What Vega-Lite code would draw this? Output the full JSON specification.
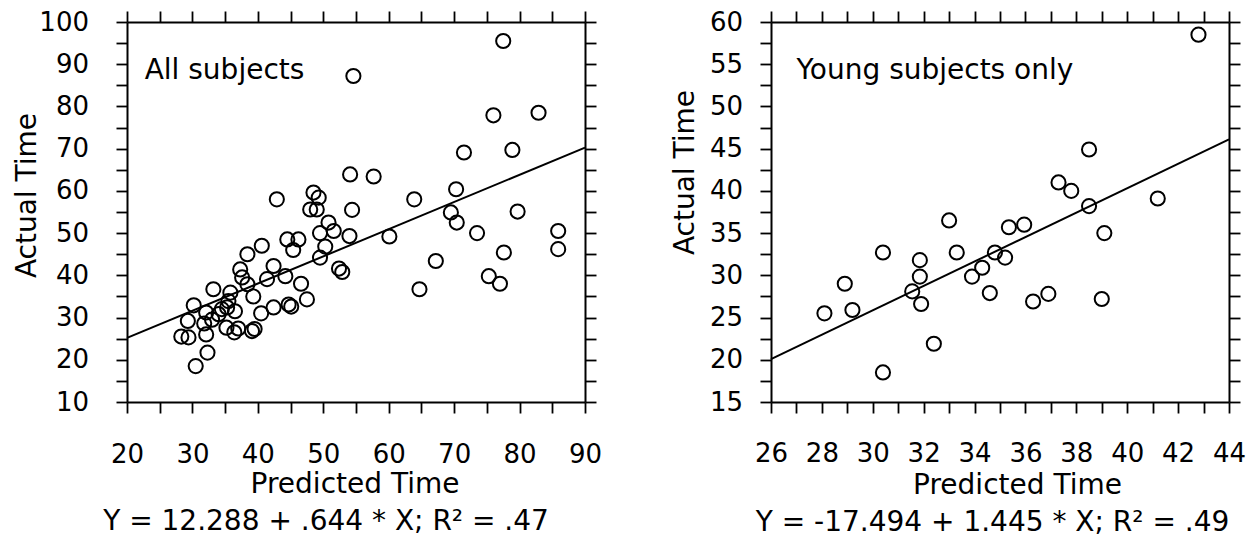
{
  "$schema": "https://vega.github.io/schema/vega-lite/v6.json",
  "background": "white",
  "padding": {"left": 13, "top": 9, "right": 5, "bottom": 5},
  "spacing": 69,
  "config": {
    "font": "DejaVu Sans",
    "view": {"stroke": null},
    "axis": {
      "domainColor": "black", "domainWidth": 2, "tickColor": "black", "tickWidth": 1.8, "tickSize": 11, "ticks": true,
      "labelColor": "black", "labelFontSize": 26, "labelFont": "DejaVu Sans",
      "titleFont": "DejaVu Sans", "titleFontSize": 28, "titleFontWeight": "normal", "titleColor": "black",
      "grid": false, "labelOverlap": false, "labelFlush": false, "labelBound": false
    },
    "title": {"font": "DejaVu Sans", "fontSize": 28, "fontWeight": "normal", "color": "black"}
  },
  "hconcat": [
    {
      "width": 458, "height": 380,
      "title": {"text": "Y = 12.288 + .644 * X; R² = .47", "orient": "bottom", "anchor": "middle", "frame": "group", "dx": -30, "offset": 10},
      "layer": [
        {
          "data": {"values": [
            {"predicted":77.5,"actual":95.5},{"predicted":54.6,"actual":87.2},{"predicted":76.0,"actual":77.9},{"predicted":82.9,"actual":78.5},
            {"predicted":71.5,"actual":69.1},{"predicted":78.9,"actual":69.7},{"predicted":54.1,"actual":63.9},{"predicted":57.7,"actual":63.4},
            {"predicted":63.9,"actual":58.0},{"predicted":70.3,"actual":60.4},{"predicted":54.4,"actual":55.5},{"predicted":69.5,"actual":54.9},
            {"predicted":70.4,"actual":52.5},{"predicted":79.7,"actual":55.1},{"predicted":85.9,"actual":50.5},{"predicted":85.9,"actual":46.2},
            {"predicted":73.5,"actual":50.0},{"predicted":54.0,"actual":49.3},{"predicted":60.1,"actual":49.2},{"predicted":67.2,"actual":43.4},
            {"predicted":64.7,"actual":36.7},{"predicted":77.6,"actual":45.4},{"predicted":75.3,"actual":39.8},{"predicted":77.0,"actual":38.0},
            {"predicted":52.4,"actual":41.6},{"predicted":52.9,"actual":40.8},{"predicted":42.9,"actual":58.0},{"predicted":48.5,"actual":59.6},
            {"predicted":49.3,"actual":58.4},{"predicted":48.0,"actual":55.6},{"predicted":49.0,"actual":55.6},{"predicted":50.8,"actual":52.5},
            {"predicted":44.5,"actual":48.5},{"predicted":46.2,"actual":48.5},{"predicted":45.4,"actual":46.0},{"predicted":49.5,"actual":50.0},
            {"predicted":51.6,"actual":50.5},{"predicted":50.3,"actual":46.8},{"predicted":49.5,"actual":44.2},{"predicted":40.6,"actual":47.0},
            {"predicted":38.4,"actual":45.0},{"predicted":37.3,"actual":41.4},{"predicted":37.6,"actual":39.5},{"predicted":38.4,"actual":37.9},
            {"predicted":42.4,"actual":42.2},{"predicted":41.4,"actual":39.1},{"predicted":44.2,"actual":39.8},{"predicted":46.6,"actual":38.0},
            {"predicted":47.5,"actual":34.3},{"predicted":44.7,"actual":33.1},{"predicted":45.1,"actual":32.6},{"predicted":42.4,"actual":32.4},
            {"predicted":40.5,"actual":31.0},{"predicted":39.3,"actual":35.0},{"predicted":39.1,"actual":26.8},{"predicted":39.5,"actual":27.3},
            {"predicted":36.4,"actual":26.5},{"predicted":37.0,"actual":27.4},{"predicted":35.8,"actual":35.9},{"predicted":33.2,"actual":36.7},
            {"predicted":35.3,"actual":32.4},{"predicted":34.0,"actual":30.8},{"predicted":35.2,"actual":27.6},{"predicted":32.1,"actual":31.2},
            {"predicted":31.8,"actual":28.6},{"predicted":32.1,"actual":26.0},{"predicted":30.2,"actual":32.9},{"predicted":29.3,"actual":29.2},
            {"predicted":28.3,"actual":25.5},{"predicted":29.4,"actual":25.3},{"predicted":32.3,"actual":21.7},{"predicted":30.5,"actual":18.5},
            {"predicted":35.5,"actual":33.9},{"predicted":34.5,"actual":32.0},{"predicted":36.5,"actual":31.5},{"predicted":33.0,"actual":29.5}
          ]},
          "mark": {"type": "point", "shape": "circle", "filled": false, "size": 200, "strokeWidth": 2, "color": "black", "opacity": 1},
          "encoding": {
            "x": {"field": "predicted", "type": "quantitative", "scale": {"domain": [20, 90], "nice": false, "zero": false},
              "axis": {"orient": "bottom", "values": [20,25,30,35,40,45,50,55,60,65,70,75,80,85,90],
                "encode": {"ticks": {"update": {"y2": {"signal": "datum.value % 10 === 0 ? 11 : 6"}}}},
                "labelExpr": "datum.value % 10 === 0 ? datum.label : ''", "labelPadding": 28,
                "title": "Predicted Time", "titleX": 227.5, "titleY": 68}},
            "y": {"field": "actual", "type": "quantitative", "scale": {"domain": [10, 100], "nice": false, "zero": false},
              "axis": {"orient": "left", "values": [10,15,20,25,30,35,40,45,50,55,60,65,70,75,80,85,90,95,100],
                "encode": {"ticks": {"update": {"x2": {"signal": "datum.value % 10 === 0 ? -11 : -6"}}}},
                "labelExpr": "datum.value % 10 === 0 ? datum.label : ''", "labelPadding": 27.5,
                "title": "Actual Time", "titleX": -91.5, "titleY": 173, "titleBaseline": "alphabetic"}}
          }
        },
        {
          "data": {"values": [{"predicted": 20, "actual": 25.17}, {"predicted": 90, "actual": 70.25}]},
          "mark": {"type": "line", "color": "black", "strokeWidth": 2},
          "encoding": {
            "x": {"field": "predicted", "type": "quantitative", "scale": {"domain": [20, 90], "nice": false, "zero": false},
              "axis": {"orient": "top", "values": [20,25,30,35,40,45,50,55,60,65,70,75,80,85,90],
                "encode": {"ticks": {"update": {"y2": {"signal": "datum.value % 10 === 0 ? -11 : -6"}}}},
                "labels": false, "title": null}},
            "y": {"field": "actual", "type": "quantitative", "scale": {"domain": [10, 100], "nice": false, "zero": false},
              "axis": {"orient": "right", "values": [10,15,20,25,30,35,40,45,50,55,60,65,70,75,80,85,90,95,100],
                "encode": {"ticks": {"update": {"x2": {"signal": "datum.value % 10 === 0 ? 11 : 6"}}}},
                "labels": false, "title": null}}
          }
        },
        {
          "data": {"values": [{"label": "All subjects"}]},
          "mark": {"type": "text", "align": "left", "baseline": "alphabetic", "fontSize": 28, "color": "black"},
          "encoding": {
            "x": {"datum": 22.7, "type": "quantitative", "axis": null},
            "y": {"datum": 86.4, "type": "quantitative", "axis": null},
            "text": {"field": "label"}
          }
        }
      ],
      "resolve": {"axis": {"x": "independent", "y": "independent"}}
    },
    {
      "width": 458, "height": 380,
      "title": {"text": "Y = -17.494 + 1.445 * X; R² = .49", "orient": "bottom", "anchor": "middle", "frame": "group", "dx": -7.5, "offset": 10},
      "layer": [
        {
          "data": {"values": [
            {"predicted":33.0,"actual":36.5},{"predicted":42.8,"actual":58.5},{"predicted":38.5,"actual":44.9},{"predicted":37.3,"actual":41.0},
            {"predicted":37.8,"actual":40.0},{"predicted":38.5,"actual":38.2},{"predicted":41.2,"actual":39.1},{"predicted":35.35,"actual":35.7},
            {"predicted":35.95,"actual":36.0},{"predicted":39.1,"actual":35.0},{"predicted":34.8,"actual":32.7},{"predicted":35.2,"actual":32.1},
            {"predicted":34.6,"actual":27.9},{"predicted":36.3,"actual":26.9},{"predicted":36.9,"actual":27.8},{"predicted":39.0,"actual":27.2},
            {"predicted":30.4,"actual":32.7},{"predicted":31.85,"actual":31.8},{"predicted":31.85,"actual":29.85},{"predicted":31.55,"actual":28.1},
            {"predicted":31.9,"actual":26.6},{"predicted":33.3,"actual":32.7},{"predicted":33.9,"actual":29.85},{"predicted":34.3,"actual":30.9},
            {"predicted":28.9,"actual":29.0},{"predicted":28.1,"actual":25.5},{"predicted":29.2,"actual":25.9},{"predicted":32.4,"actual":21.9},
            {"predicted":30.4,"actual":18.5}
          ]},
          "mark": {"type": "point", "shape": "circle", "filled": false, "size": 200, "strokeWidth": 2, "color": "black", "opacity": 1},
          "encoding": {
            "x": {"field": "predicted", "type": "quantitative", "scale": {"domain": [26, 44], "nice": false, "zero": false},
              "axis": {"orient": "bottom", "values": [26,27,28,29,30,31,32,33,34,35,36,37,38,39,40,41,42,43,44],
                "encode": {"ticks": {"update": {"y2": {"signal": "datum.value % 2 === 0 ? 11 : 6"}}}},
                "labelExpr": "datum.value % 2 === 0 ? datum.label : ''", "labelPadding": 27,
                "title": "Predicted Time", "titleX": 246, "titleY": 69}},
            "y": {"field": "actual", "type": "quantitative", "scale": {"domain": [15, 60], "nice": false, "zero": false},
              "axis": {"orient": "left", "values": [15,17.5,20,22.5,25,27.5,30,32.5,35,37.5,40,42.5,45,47.5,50,52.5,55,57.5,60],
                "encode": {"ticks": {"update": {"x2": {"signal": "datum.value % 5 === 0 ? -11 : -6"}}}},
                "labelExpr": "datum.value % 5 === 0 ? datum.label : ''", "labelPadding": 17.5,
                "title": "Actual Time", "titleX": -77.7, "titleY": 150, "titleBaseline": "alphabetic"}}
          }
        },
        {
          "data": {"values": [{"predicted": 26, "actual": 20.08}, {"predicted": 44, "actual": 46.09}]},
          "mark": {"type": "line", "color": "black", "strokeWidth": 2},
          "encoding": {
            "x": {"field": "predicted", "type": "quantitative", "scale": {"domain": [26, 44], "nice": false, "zero": false},
              "axis": {"orient": "top", "values": [26,27,28,29,30,31,32,33,34,35,36,37,38,39,40,41,42,43,44],
                "encode": {"ticks": {"update": {"y2": {"signal": "datum.value % 2 === 0 ? -11 : -6"}}}},
                "labels": false, "title": null}},
            "y": {"field": "actual", "type": "quantitative", "scale": {"domain": [15, 60], "nice": false, "zero": false},
              "axis": {"orient": "right", "values": [15,17.5,20,22.5,25,27.5,30,32.5,35,37.5,40,42.5,45,47.5,50,52.5,55,57.5,60],
                "encode": {"ticks": {"update": {"x2": {"signal": "datum.value % 5 === 0 ? 11 : 6"}}}},
                "labels": false, "title": null}}
          }
        },
        {
          "data": {"values": [{"label": "Young subjects only"}]},
          "mark": {"type": "text", "align": "left", "baseline": "alphabetic", "fontSize": 28, "color": "black"},
          "encoding": {
            "x": {"datum": 27.0, "type": "quantitative", "axis": null},
            "y": {"datum": 53.2, "type": "quantitative", "axis": null},
            "text": {"field": "label"}
          }
        }
      ],
      "resolve": {"axis": {"x": "independent", "y": "independent"}}
    }
  ]
}
